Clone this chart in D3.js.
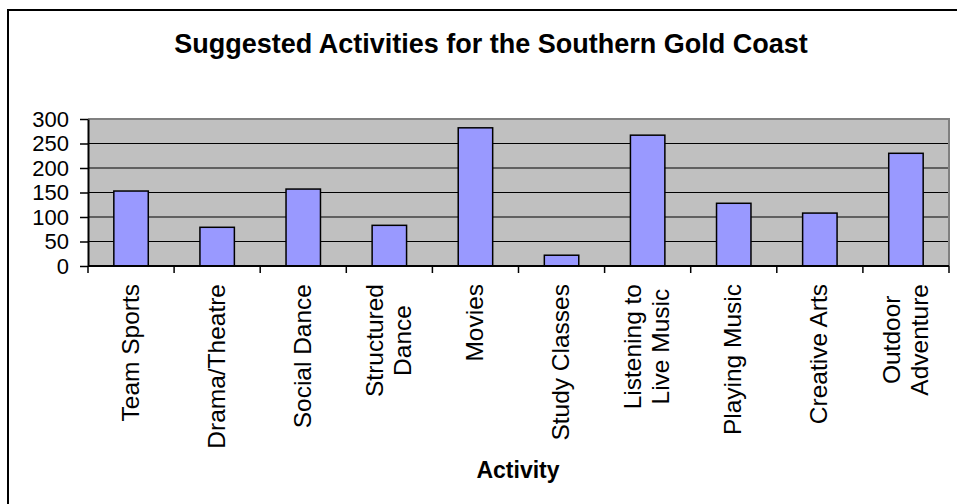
<!DOCTYPE html>
<html>
<head>
<meta charset="utf-8">
<script src="https://cdn.jsdelivr.net/npm/d3@7"></script>
<style>
  html, body { margin: 0; padding: 0; background: #fff; }
  svg { display: block; }
  text { font-family: "Liberation Sans", Arial, sans-serif; fill: #000; }
</style>
</head>
<body>
<svg id="chart" width="957" height="504"></svg>
<script>
// Survey responses per activity
const categories = [
  ["Team Sports"],
  ["Drama/Theatre"],
  ["Social Dance"],
  ["Structured", "Dance"],
  ["Movies"],
  ["Study Classes"],
  ["Listening to", "Live Music"],
  ["Playing Music"],
  ["Creative Arts"],
  ["Outdoor", "Adventure"]
];
const values = [153, 79, 157, 83, 282, 22, 267, 128, 108, 230];
const yTicks = [0, 50, 100, 150, 200, 250, 300];

const titleText = "Suggested Activities for the Southern Gold Coast";
const xTitle = "Activity";

const svg = d3.select("#chart");
const plot = { left: 88, right: 949, top: 119, bottom: 266 };

// outer chart frame
svg.append("rect")
  .attr("x", 8).attr("y", 10)
  .attr("width", 970).attr("height", 510)
  .attr("fill", "#fff").attr("stroke", "#000").attr("stroke-width", 2);

const keys = categories.map((c, i) => i);
const x = d3.scaleBand().domain(keys).range([plot.left, plot.right]).padding(0);
const y = d3.scaleLinear().domain([0, 300]).range([plot.bottom, plot.top]);

// plot area background
svg.append("rect")
  .attr("x", plot.left).attr("y", plot.top)
  .attr("width", plot.right - plot.left).attr("height", plot.bottom - plot.top)
  .attr("fill", "#c0c0c0");

// horizontal gridlines
svg.append("g")
  .selectAll("line")
  .data(yTicks.filter(t => t > 0 && t < 300))
  .join("line")
  .attr("x1", plot.left).attr("x2", plot.right)
  .attr("y1", d => y(d)).attr("y2", d => y(d))
  .attr("stroke", "#000").attr("stroke-width", 1.2);

// plot area border (top and right)
svg.append("path")
  .attr("d", `M${plot.left},${plot.top}H${plot.right}V${plot.bottom}`)
  .attr("fill", "none").attr("stroke", "#808080").attr("stroke-width", 2);

// bars
const barW = x.bandwidth() * 0.4;
svg.append("g")
  .selectAll("rect")
  .data(values)
  .join("rect")
  .attr("x", (d, i) => x(i) + (x.bandwidth() - barW) / 2)
  .attr("y", d => y(d))
  .attr("width", barW)
  .attr("height", d => y(0) - y(d))
  .attr("fill", "#9999ff")
  .attr("stroke", "#000").attr("stroke-width", 1.5);

// y axis
const yAxis = d3.axisLeft(y).tickValues(yTicks).tickSize(8).tickPadding(11).tickSizeOuter(0);
const gy = svg.append("g").attr("transform", `translate(${plot.left},0)`).call(yAxis);
gy.select(".domain").attr("stroke", "#000").attr("stroke-width", 2);
gy.selectAll(".tick line").attr("stroke", "#000").attr("stroke-width", 1.5);
gy.selectAll(".tick text")
  .style("font-family", '"Liberation Sans", Arial, sans-serif')
  .style("font-size", "22px").attr("fill", "#000");

// x axis: line plus ticks at category boundaries
svg.append("line")
  .attr("x1", plot.left).attr("x2", plot.right)
  .attr("y1", plot.bottom).attr("y2", plot.bottom)
  .attr("stroke", "#000").attr("stroke-width", 2);
const bounds = keys.map(k => x(k)).concat([plot.right]);
svg.append("g")
  .selectAll("line")
  .data(bounds)
  .join("line")
  .attr("x1", d => d).attr("x2", d => d)
  .attr("y1", plot.bottom).attr("y2", plot.bottom + 7)
  .attr("stroke", "#000").attr("stroke-width", 1.5);

// rotated category labels, block aligned to the top under the axis
const labelTop = 284;
const fs = 23, stretch = 1.065, lineH = 28;
categories.forEach((lines, i) => {
  const cx = x(i) + x.bandwidth() / 2;
  const g = svg.append("g");
  const texts = lines.map((ln, j) => g.append("text")
    .attr("text-anchor", "middle")
    .style("font-size", fs + "px")
    .text(ln));
  const maxLen = d3.max(texts, t => t.node().getComputedTextLength()) * stretch;
  const cy = labelTop + maxLen / 2;
  const n = lines.length;
  texts.forEach((t, j) => {
    const off = (j - (n - 1) / 2) * lineH;
    const bx = cx + off + fs * 0.33;
    t.attr("transform", `translate(${bx},${cy}) rotate(-90) scale(${stretch},1)`);
  });
});

// axis title
svg.append("text")
  .attr("x", 518).attr("y", 478)
  .attr("text-anchor", "middle")
  .style("font-size", "23px").style("font-weight", "bold")
  .text(xTitle);

// chart title
svg.append("text")
  .attr("x", 491).attr("y", 53)
  .attr("text-anchor", "middle")
  .style("font-size", "27px").style("font-weight", "bold")
  .text(titleText);
</script>
</body>
</html>
